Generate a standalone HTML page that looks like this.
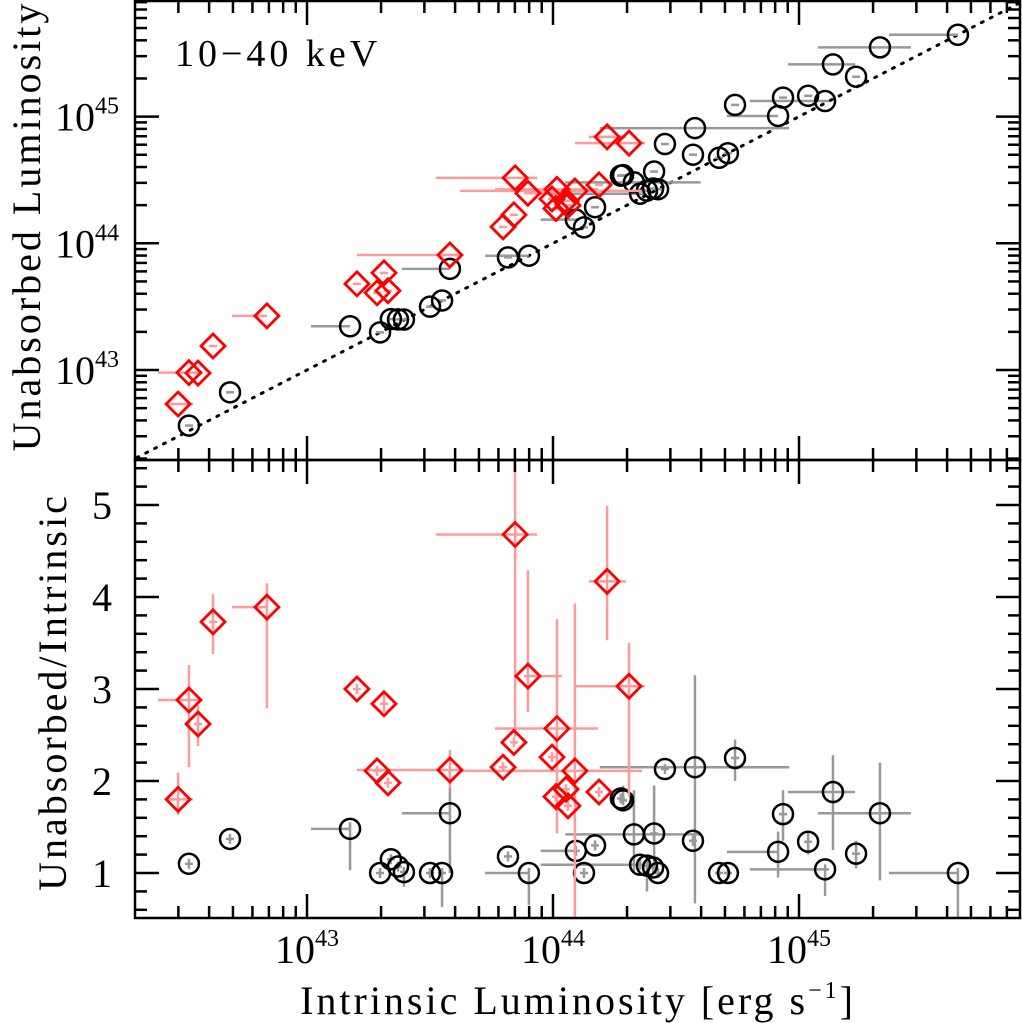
<!DOCTYPE html>
<html><head><meta charset="utf-8">
<style>
html,body{margin:0;padding:0;background:#fff;}
svg{display:block;font-family:"Liberation Serif","DejaVu Serif",serif;}
</style></head>
<body>
<svg id="chart" width="1022" height="1023" viewBox="0 0 1022 1023">
<g id="marks"></g>
<g id="axes"></g>
<text x="175" y="66" font-size="38" letter-spacing="4">10−40 keV</text>
<text transform="translate(40,226) rotate(-90)" text-anchor="middle" font-size="40" letter-spacing="3">Unabsorbed Luminosity</text>
<text transform="translate(66,692) rotate(-90)" text-anchor="middle" font-size="40" letter-spacing="3">Unabsorbed/Intrinsic</text>
<text x="578" y="1014" text-anchor="middle" font-size="40" letter-spacing="3">Intrinsic Luminosity [erg s<tspan font-size="24" dy="-16">−1</tspan><tspan dy="16">]</tspan></text>
</svg>
<script>
// Red (absorbed) sources: log intrinsic luminosity, ratio
const redLogL = [42.476,42.520,42.557,42.618,42.837,43.203,43.313,43.285,43.329,43.581,43.846,44.220,43.898,44.309,44.016,43.841,43.797,43.996,44.089,44.053,44.187,44.012,44.061];
const redRatio = [1.80,2.88,2.62,3.73,3.89,3.00,2.84,2.11,1.98,2.12,4.68,4.17,3.14,3.03,2.57,2.42,2.15,2.26,2.11,1.91,1.88,1.83,1.73];
const redXLo = [42.435,42.394,null,null,42.695,null,null,null,null,43.203,43.524,44.146,null,44.089,43.764,null,null,null,43.622,null,null,null,null];
const redXHi = [42.537,42.573,null,null,42.837,null,null,null,null,43.622,43.935,44.297,44.037,44.374,44.183,null,null,null,44.362,null,null,null,null];
const redYLo = [1.63,2.15,2.38,3.38,2.79,null,2.75,null,null,1.92,2.48,3.53,2.75,1.83,1.43,null,null,null,0.49,null,null,null,null];
const redYHi = [2.09,3.26,2.82,4.03,4.15,null,2.95,null,null,2.34,6.0,4.99,4.29,3.50,3.76,null,null,null,3.93,null,null,null,null];
// Black (unabsorbed) sources
const blkLogL = [42.520,42.687,43.175,43.341,43.297,43.370,43.394,43.500,43.549,43.581,43.817,43.902,44.093,44.171,44.126,44.276,44.285,44.455,44.577,44.740,44.329,44.411,44.569,44.354,44.382,44.407,44.427,44.675,44.711,45.138,44.935,45.329,45.037,44.915,45.232,45.106,45.646];
const blkRatio = [1.10,1.37,1.48,1.15,1.00,1.07,1.01,1.00,1.00,1.65,1.18,1.00,1.24,1.30,1.00,1.81,1.79,2.13,2.15,2.25,1.42,1.43,1.35,1.09,1.08,1.06,1.00,1.00,1.00,1.88,1.64,1.65,1.34,1.23,1.21,1.04,1.00];
const blkXLo = [null,null,43.016,null,null,null,null,null,null,43.386,null,43.724,43.95,null,null,null,null,null,44.19,null,44.05,null,null,43.95,null,null,null,null,null,44.955,null,45.077,null,44.707,null,44.80,45.366];
const blkXHi = [null,null,43.175,null,null,null,null,null,null,43.581,null,43.902,null,null,null,null,null,null,44.96,null,44.6,null,null,null,null,null,null,null,null,45.228,null,45.455,null,44.915,null,null,45.646];
const blkYLo = [null,null,1.03,null,null,null,0.85,null,0.63,1.0,null,0.65,null,null,null,null,null,null,0.67,2.0,1.0,1.0,null,null,0.8,null,null,null,null,1.25,1.35,0.92,1.2,0.95,1.05,0.75,0.5];
const blkYHi = [null,null,1.55,null,null,null,null,null,null,1.93,null,null,null,null,null,null,1.95,null,3.15,2.45,1.9,1.95,null,null,null,null,null,null,null,2.28,1.9,2.20,1.45,1.45,1.35,null,null];

const NS='http://www.w3.org/2000/svg';
const X0=135,X1=1020,TOP0=1,TOP1=460,BOT1=918;
function sx(l){return 307+(l-43)*246;}
function syTop(l){return 370-(l-43)*126.7;}
function syBot(r){return 873-(r-1)*92;}
const marks=document.getElementById('marks');
const axes=document.getElementById('axes');
function el(tag,attrs,parent){const e=document.createElementNS(NS,tag);for(const k in attrs)e.setAttribute(k,attrs[k]);(parent||marks).appendChild(e);return e;}

const defs=el('defs',{},document.getElementById('chart'));
const c1=el('clipPath',{id:'ct'},defs);el('rect',{x:X0,y:TOP0,width:X1-X0,height:TOP1-TOP0},c1);
const c2=el('clipPath',{id:'cb'},defs);el('rect',{x:X0,y:TOP1,width:X1-X0,height:BOT1-TOP1},c2);
const gTop=el('g',{'clip-path':'url(#ct)'});


const gBot=el('g',{'clip-path':'url(#cb)'});



const dl=el('line',{x1:sx(42.2),y1:syTop(42.2),x2:sx(46),y2:syTop(46),stroke:'#000','stroke-width':3,'stroke-dasharray':'2 8','stroke-linecap':'round'},gTop);



function drawSeries(L,R,xlo,xhi,ylo,yhi,ecol,kind){
  for(let i=0;i<L.length;i++){
    const x=sx(L[i]);const lu=L[i]+Math.log10(R[i]);
    const yt=syTop(lu),yb=syBot(R[i]);
    const a=xlo[i]!=null?sx(xlo[i]):x-4, b=xhi[i]!=null?sx(xhi[i]):x+4;
    const c=ylo[i]!=null?syBot(ylo[i]):yb+5, d=yhi[i]!=null?syBot(yhi[i]):yb-5;
    const e1=el('line',{x1:a,y1:yt,x2:b,y2:yt,stroke:ecol,'stroke-width':2.5},gTop);
    
    
    const e2=el('line',{x1:a,y1:yb,x2:b,y2:yb,stroke:ecol,'stroke-width':2.5},gBot);
    
    
    const e3=el('line',{x1:x,y1:c,x2:x,y2:d,stroke:ecol,'stroke-width':2.5},gBot);
    
    
  }
  for(let i=0;i<L.length;i++){
    const x=sx(L[i]);const lu=L[i]+Math.log10(R[i]);
    [[gTop,syTop(lu),'top'],[gBot,syBot(R[i]),'bottom']].forEach(([g,y,p])=>{
      let m;
      if(kind==='red'){m=el('polygon',{points:`${x},${y-12} ${x+12},${y} ${x},${y+12} ${x-12},${y}`,fill:'none',stroke:'#f00','stroke-width':2.8},g);
        }
      else{m=el('circle',{cx:x,cy:y,r:10,fill:'none',stroke:'#000','stroke-width':2.5},g);
        }
      
    });
  }
}
drawSeries(blkLogL,blkRatio,blkXLo,blkXHi,blkYLo,blkYHi,'#999','black');
drawSeries(redLogL,redRatio,redXLo,redXHi,redYLo,redYHi,'#ff9a9a','red');

const f1=el('rect',{x:X0,y:TOP0,width:X1-X0,height:TOP1-TOP0,fill:'none',stroke:'#000','stroke-width':2.5},axes);


const f2=el('rect',{x:X0,y:TOP1,width:X1-X0,height:BOT1-TOP1,fill:'none',stroke:'#000','stroke-width':2.5},axes);



function tk(x1,y1,x2,y2){const t=el('line',{x1,y1,x2,y2,stroke:'#000','stroke-width':2.5},axes);
  
  }
for(let dec=42;dec<=45;dec++){for(let n=1;n<=9;n++){const l=dec+Math.log10(n);const x=sx(l);if(x<X0+1||x>X1-1)continue;const len=n===1?24:12;
  tk(x,TOP0,x,TOP0+len);tk(x,TOP1,x,TOP1-len);tk(x,TOP1,x,TOP1+len);tk(x,BOT1,x,BOT1-len);}}
for(let dec=42;dec<=45;dec++){for(let n=1;n<=9;n++){const l=dec+Math.log10(n);const y=syTop(l);if(y<TOP0+1||y>TOP1-1)continue;const len=n===1?24:12;
  tk(X0,y,X0+len,y);tk(X1,y,X1-len,y);}}
for(let v=0.6;v<=5.45;v+=0.2){const y=syBot(v);if(y>BOT1-1||y<TOP1+1)continue;const major=Math.abs(v-Math.round(v))<0.01;const len=major?24:12;
  tk(X0,y,X0+len,y);tk(X1,y,X1-len,y);}

const yTopTicks=[43,44,45];
const yBotTicks=[1,2,3,4,5];
const xTicks=[43,44,45];
yTopTicks.forEach(d=>{const t=el('text',{x:119,y:syTop(d)+14,'text-anchor':'end','font-size':40},axes);
  
  
  t.innerHTML='10<tspan font-size="24" dy="-17">'+d+'</tspan>';});
yBotTicks.forEach(v=>{const t=el('text',{x:112,y:syBot(v)+14,'text-anchor':'end','font-size':40},axes);
  
  
  t.textContent=v;});
xTicks.forEach(d=>{const t=el('text',{x:sx(d),y:963,'text-anchor':'middle','font-size':40},axes);
  
  
  t.innerHTML='10<tspan font-size="24" dy="-17">'+d+'</tspan>';});
</script>
</body></html>
